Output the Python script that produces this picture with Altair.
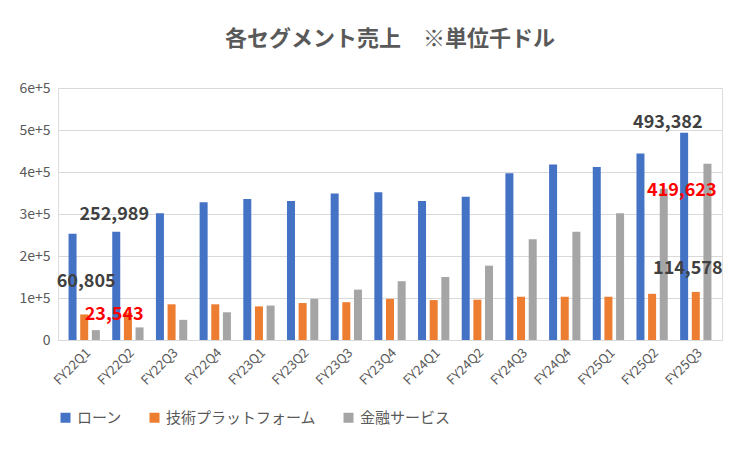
import altair as alt
import pandas as pd

quarters = ["FY22Q1", "FY22Q2", "FY22Q3", "FY22Q4", "FY23Q1", "FY23Q2", "FY23Q3", "FY23Q4",
            "FY24Q1", "FY24Q2", "FY24Q3", "FY24Q4", "FY25Q1", "FY25Q2", "FY25Q3"]
loan = [252989, 258000, 302000, 328000, 336000, 331000, 349000, 352000,
        331000, 341000, 397000, 418000, 412000, 444000, 493382]
tech = [60805, 65000, 85000, 85000, 80000, 88000, 90000, 98000,
        95000, 96000, 103000, 103000, 103000, 110000, 114578]
fin = [23543, 30000, 48000, 66000, 82000, 98000, 120000, 140000,
       150000, 177000, 240000, 258000, 302000, 360000, 419623]
series = ["ローン", "技術プラットフォーム", "金融サービス"]
colors = ["#4472C4", "#ED7D31", "#A5A5A5"]

rows = []
for i, q in enumerate(quarters):
    for s, vals in zip(series, [loan, tech, fin]):
        rows.append({"q": q, "s": s, "v": vals[i]})
df = pd.DataFrame(rows)

font = "Noto Sans CJK JP"

xenc = alt.X("q:N", sort=quarters, title=None,
             axis=alt.Axis(labelAngle=-45, labelFontSize=13, labelColor="#595959",
                           ticks=False, domainColor="#D9D9D9", labelPadding=6))
yenc = alt.Y("v:Q", title=None, scale=alt.Scale(domain=[0, 600000]),
             axis=alt.Axis(format=",", values=list(range(0, 600001, 100000)),
                           labelFontSize=14, labelColor="#595959", ticks=False, domain=False,
                           gridColor="#D9D9D9", labelPadding=8))

bars = alt.Chart(df).mark_bar(size=8).encode(
    x=xenc,
    xOffset=alt.XOffset("s:N", sort=series),
    y=yenc,
    color=alt.Color("s:N", sort=series, scale=alt.Scale(domain=series, range=colors),
                    legend=alt.Legend(orient="bottom", title=None, labelFontSize=15,
                                      symbolType="square", labelColor="#595959",
                                      columnPadding=24, offset=22)),
)

ann = pd.DataFrame([
    {"q": "FY22Q1", "v": 252989, "t": "252,989", "c": "#404040", "dx": 30, "dy": -19},
    {"q": "FY22Q1", "v": 60805, "t": "60,805", "c": "#404040", "dx": 2, "dy": -32},
    {"q": "FY22Q1", "v": 23543, "t": "23,543", "c": "#FF0000", "dx": 30, "dy": -15},
    {"q": "FY25Q3", "v": 493382, "t": "493,382", "c": "#404040", "dx": -28, "dy": -10},
    {"q": "FY25Q3", "v": 419623, "t": "419,623", "c": "#FF0000", "dx": -14, "dy": 27},
    {"q": "FY25Q3", "v": 114578, "t": "114,578", "c": "#404040", "dx": -8, "dy": -23},
])
layers = []
for _, r in ann.iterrows():
    layers.append(alt.Chart(ann[ann.t == r.t]).mark_text(
        fontSize=18, fontWeight="bold", font=font, dx=r.dx, dy=r.dy, color=r.c
    ).encode(x=xenc, y=yenc, text="t:N"))

chart = alt.layer(bars, *layers).properties(
    width=736, height=436,
    autosize=alt.AutoSizeParams(type="fit", contains="padding"),
    title=alt.Title("各セグメント売上　※単位千ドル", fontSize=22, font=font,
                    color="#595959", fontWeight="bold", offset=30),
    padding={"left": 10, "right": 22, "top": 20, "bottom": 18},
).configure_view(stroke=None).configure(font=font)

chart.save("out.html", embed_options={"renderer": "svg", "actions": False})
